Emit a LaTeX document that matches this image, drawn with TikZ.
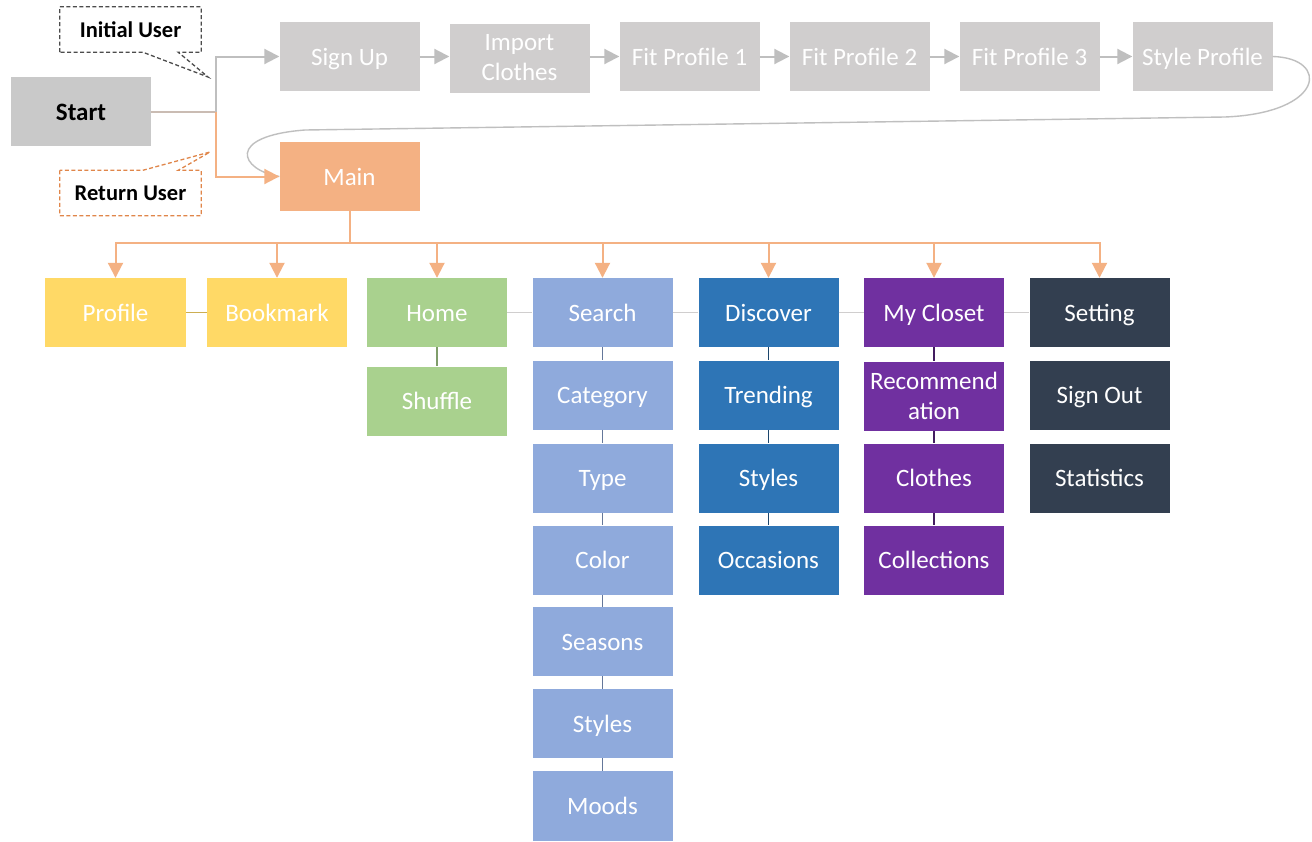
\documentclass[tikz,border=0pt]{standalone}
\usepackage{fontspec}
\setmainfont{Carlito}
\usetikzlibrary{arrows.meta}
\definecolor{topgray}{HTML}{D0CECE}
\definecolor{startgray}{HTML}{C9C9C9}
\definecolor{linegray}{HTML}{BFBFBF}
\definecolor{mainor}{HTML}{F4B183}
\definecolor{lineor}{HTML}{F4B183}
\definecolor{dashor}{HTML}{E0864A}
\definecolor{cyel}{HTML}{FFD966}
\definecolor{cgreen}{HTML}{A9D18E}
\definecolor{clblue}{HTML}{8FAADC}
\definecolor{cblue}{HTML}{2E75B6}
\definecolor{cpurple}{HTML}{7030A0}
\definecolor{cdark}{HTML}{333F50}
\tikzset{
  boxbase/.style={rectangle, minimum width=140pt, minimum height=69pt, inner sep=0pt,
    text=white, align=center, font=\fontsize{25}{30}\selectfont},
  boxnode/.style={boxbase, text height=18pt, text depth=1pt},
  topbox/.style={boxnode, fill=topgray},
  tip/.style={-{Triangle[length=15pt,width=15pt]}},
  grayarrow/.style={draw=linegray, line width=2pt, tip},
  orarrow/.style={draw=lineor, line width=2pt, tip},
  rowlink/.style={draw=topgray, line width=1.6pt},
  collink/.style={line width=1.6pt},
  calloutbox/.style={rectangle, fill=white, minimum width=141pt, minimum height=45pt,
    inner sep=0pt, font=\fontsize{22.5}{26}\selectfont\bfseries, text=black},
  calloutline/.style={line width=1.3pt, dash pattern=on 4pt off 2.5pt},
}
\begin{document}
\begin{tikzpicture}[x=1pt,y=-1pt]
\useasboundingbox (0,0) rectangle (1312,841);
\fill[white] (0,0) rectangle (1312,841);

% Start
\node[boxnode, fill=startgray, text=black, font=\fontsize{25}{30}\selectfont\bfseries] (start) at (81,111.5) {Start};

% top row
\node[topbox] (signup) at (349.5,56.5) {Sign Up};
\node[boxbase, fill=topgray] (import) at (519.5,58) {Import\\Clothes};
\node[topbox] (fp1) at (689.5,56.5) {Fit Profile 1};
\node[topbox] (fp2) at (859.5,56.5) {Fit Profile 2};
\node[topbox] (fp3) at (1029.5,56.5) {Fit Profile 3};
\node[topbox] (style) at (1202.5,56.5) {Style Profile};

% main
\node[boxnode, fill=mainor] (main) at (349.5,176.5) {Main};

% row 2
\node[boxnode, fill=cyel, minimum width=141pt] (profile) at (115.5,312.5) {Profile};
\node[boxnode, fill=cyel] (bookmark) at (277,312.5) {Bookmark};
\node[boxnode, fill=cgreen] (home) at (437,312.5) {Home};
\node[boxnode, fill=clblue] (search) at (602.5,312.5) {Search};
\node[boxnode, fill=cblue] (discover) at (768.5,312.5) {Discover};
\node[boxnode, fill=cpurple] (closet) at (934,312.5) {My Closet};
\node[boxnode, fill=cdark] (setting) at (1099.5,312.5) {Setting};

% columns
\node[boxnode, fill=cgreen] (shuffle) at (437,401) {Shuffle};

\node[boxnode, fill=clblue] (category) at (602.5,395) {Category};
\node[boxnode, fill=clblue] (type) at (602.5,478) {Type};
\node[boxnode, fill=clblue] (color) at (602.5,560) {Color};
\node[boxnode, fill=clblue] (seasons) at (602.5,641.5) {Seasons};
\node[boxnode, fill=clblue] (styles1) at (602.5,723.5) {Styles};
\node[boxnode, fill=clblue, minimum height=70pt] (moods) at (602.5,806) {Moods};

\node[boxnode, fill=cblue] (trending) at (768.5,395) {Trending};
\node[boxnode, fill=cblue] (styles2) at (768.5,478) {Styles};
\node[boxnode, fill=cblue] (occasions) at (768.5,560) {Occasions};

\node[boxbase, fill=cpurple] (recom) at (934,396) {Recommend\\ation};
\node[boxnode, fill=cpurple] (clothes) at (934,478) {Clothes};
\node[boxnode, fill=cpurple] (collections) at (934,560) {Collections};

\node[boxnode, fill=cdark] (signout) at (1099.5,395) {Sign Out};
\node[boxnode, fill=cdark] (statistics) at (1099.5,478) {Statistics};

% callouts
\node[calloutbox] (iu) at (130.5,29.5) {Initial User};
\coordinate (iup) at (208,77);
\draw[calloutline, draw=black!70] (iu.south west) -- (iu.north west) -- (iu.north east) -- (iu.south east)
  -- ([xshift=-23pt]iu.south east) -- (iup) -- ([xshift=83pt]iu.south west) -- cycle;
\node[calloutbox] (ru) at (130.5,193) {Return User};
\coordinate (rup) at (210,152);
\draw[calloutline, draw=dashor] (ru.north west) -- (ru.south west) -- (ru.south east) -- (ru.north east)
  -- ([xshift=-23pt]ru.north east) -- (rup) -- ([xshift=83pt]ru.north west) -- cycle;

% start connectors
\coordinate (j) at (216,111.5);
\coordinate (jt) at (216,56.5);
\coordinate (jb) at (216,176.5);
\draw[draw=linegray!80!lineor, line width=2pt] (start.east) -- (j);
\draw[grayarrow] (j) -- (jt) -- (signup.west);

% top arrows
\draw[grayarrow] (signup) -- (import.west |- signup);
\draw[grayarrow] (import.east |- fp1) -- (fp1);
\draw[grayarrow] (fp1) -- (fp2);
\draw[grayarrow] (fp2) -- (fp3);
\draw[grayarrow] (fp3) -- (style);

% loop curve back to main
\coordinate (lc1) at (1225,117);
\coordinate (lc2) at (305,130);
\draw[draw=linegray, line width=1.4pt] (style.east) .. controls (1330,58) and (1325,113) .. (lc1)
  -- (lc2) .. controls (225,136) and (240,170) .. (main.west);

\draw[orarrow] (j) -- (jb) -- (main.west);

% main bus
\coordinate (bus) at (349.5,243);
\foreach \n in {profile,bookmark,home,search,discover,closet,setting}{
  \draw[orarrow] (main.south) -- (bus) -| (\n.north);
}

% row links
\draw[collink, draw=cyel!80!black] (profile.east) -- (bookmark.west);
\draw[rowlink] (home.east) -- (search.west);
\draw[rowlink] (search.east) -- (discover.west);
\draw[rowlink] (discover.east) -- (closet.west);
\draw[rowlink] (closet.east) -- (setting.west);

% column links
\draw[collink, draw=cgreen!75!black] (home.south) -- (shuffle.north);
\foreach \a/\b in {search/category,category/type,type/color,color/seasons,seasons/styles1,styles1/moods}
  \draw[collink, draw=clblue!70!black] (\a.south) -- (\b.north);
\foreach \a/\b in {discover/trending,trending/styles2,styles2/occasions}
  \draw[collink, draw=cblue!60!black] (\a.south) -- (\b.north);
\foreach \a/\b in {closet/recom,recom/clothes,clothes/collections}
  \draw[collink, draw=cpurple!60!black] (\a.south) -- (\b.north);
\end{tikzpicture}
\end{document}
